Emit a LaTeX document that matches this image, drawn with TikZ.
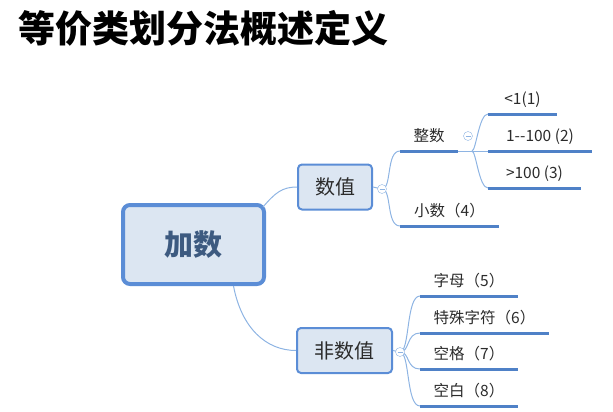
\documentclass[tikz,border=0pt]{standalone}
\usepackage{fontspec}
\setmainfont{Noto Sans CJK SC}
\usetikzlibrary{positioning}
\definecolor{boxfill}{HTML}{DCE6F2}
\definecolor{boxline}{HTML}{5B8DD6}
\definecolor{ulinec}{HTML}{4F81C7}
\definecolor{linkc}{HTML}{8EB4E3}
\definecolor{roottext}{HTML}{3D5A80}
\definecolor{leaftext}{HTML}{2B2B2B}

\begin{document}
\begin{tikzpicture}[x=1pt,y=-1pt,
    root/.style={draw=boxline,line width=4pt,fill=boxfill,rounded corners=7pt,
      minimum width=141pt,minimum height=79pt,text=roottext,
      font=\fontsize{29}{29}\selectfont\bfseries},
    topic/.style={draw=boxline,line width=2pt,fill=boxfill,rounded corners=4pt,
      minimum width=74pt,minimum height=45pt,text=leaftext,
      font=\fontsize{20}{20}\selectfont},
    leaf/.style={anchor=south west,inner xsep=11pt,inner ysep=7pt,outer sep=0pt,
      text height=11pt,text depth=3pt,text=leaftext,
      font=\fontsize{15.5}{15.5}\selectfont},
    fold/.style={circle,draw=linkc,fill=white,minimum size=9pt,inner sep=0pt,
      path picture={\draw[linkc,line width=0.7pt]
        ([xshift=-2.5pt]path picture bounding box.center) --
        ([xshift=2.5pt]path picture bounding box.center);}},
    link/.style={draw=linkc,line width=1pt},
    uline/.style={draw=ulinec,line width=3pt}]
    \useasboundingbox (0,0) rectangle (613,412);

    % title
    \node[anchor=west,font=\fontsize{37}{37}\selectfont\bfseries] (title) at (15,28) {等价类划分法概述定义};

    % boxes
    \node[root]                        (root) at (193.5,244.5) {加数};
    \node[topic]                       (num)  at (335,187)     {数值};
    \node[topic,minimum width=95pt]    (non)  at (344.5,350.5) {非数值};

    % leaves
    \node[leaf,minimum width=58pt]  (zs)  at (400,151) {整数};
    \node[leaf,minimum width=99pt]  (xs)  at (400,226) {小数（4）};
    \node[leaf,minimum width=69pt]  (lt)  at (488,114) {<1(1)};
    \node[leaf,minimum width=104pt] (mid) at (488,151) {1-{}-100 (2)};
    \node[leaf,minimum width=93pt]  (gt)  at (488,188) {>100 (3)};
    \node[leaf,minimum width=98pt]  (zm)  at (420,296) {字母（5）};
    \node[leaf,minimum width=129pt] (ts)  at (420,333) {特殊字符（6）};
    \node[leaf,minimum width=98pt]  (kg)  at (420,369) {空格（7）};
    \node[leaf,minimum width=98pt]  (kb)  at (420,406) {空白（8）};

    % links
    \draw[link] ([xshift=-3pt,yshift=-4pt]root.north east) .. controls +(12,-14) and +(-15,0) .. (num.west);
    \draw[link] ([xshift=40pt]root.south) .. controls +(8,42) and +(-30,0) .. (non.west);
    \draw[link] (num.east) -- (382,189) coordinate (numf);
    \draw[link] (non.east) -- (400,352) coordinate (nonf);
    \foreach \n in {zs,xs}
      \draw[link] (numf) .. controls +(10,0) and +(-14,0) .. (\n.south west);
    \foreach \n in {zm,ts,kg,kb}
      \draw[link] (nonf) .. controls +(10,0) and +(-14,0) .. (\n.south west);
    \draw[link] (zs.south east) -- (mid.south west);
    \foreach \n in {lt,gt}
      \draw[link] ([xshift=14pt]zs.south east) .. controls +(4,0) and +(-9,0) .. (\n.south west);

    % underlines
    \foreach \n in {zs,xs,lt,mid,gt,zm,ts,kg,kb}
      \draw[uline] (\n.south west) -- (\n.south east);

    % fold marks
    \node[fold] (numc) at (numf) {};
    \node[fold] (nonc) at (nonf) {};
    \node[fold] (zsc)  at (468,136) {};
\end{tikzpicture}
\end{document}
